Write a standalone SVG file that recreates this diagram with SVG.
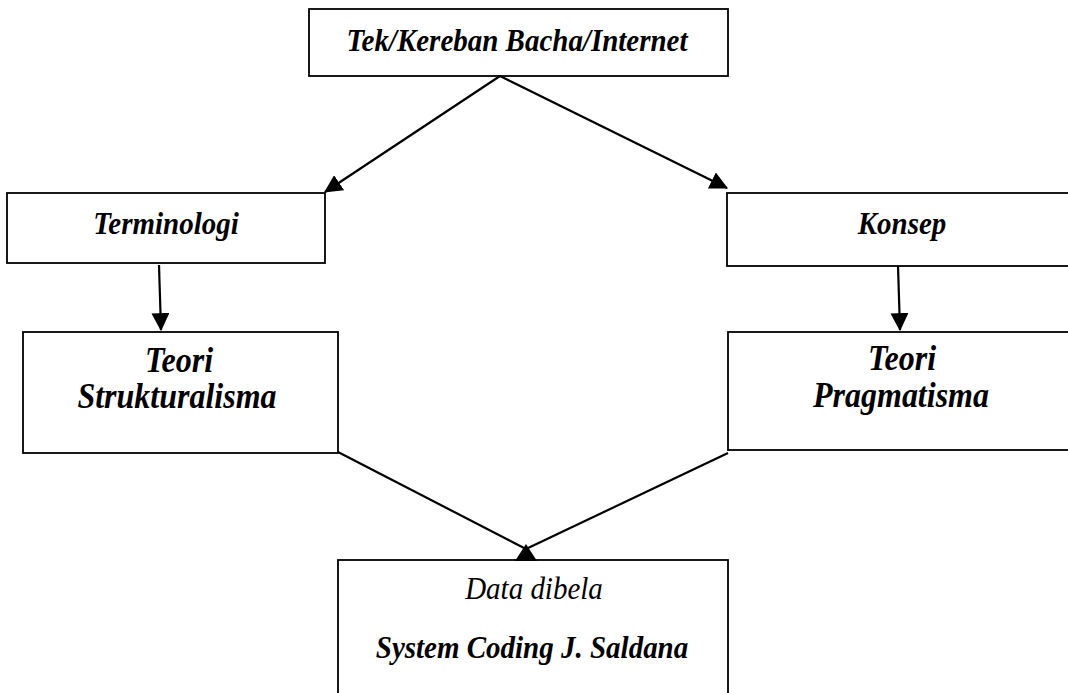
<svg xmlns="http://www.w3.org/2000/svg" width="1068" height="693" viewBox="0 0 1068 693">
  <style>
    .box { fill: #fff; stroke: #000; stroke-width: 1.8; }
    .bi { font-family: "Liberation Serif", "Times New Roman", serif; font-weight: bold; font-style: italic; fill: #000; text-anchor: middle; }
    .it { font-family: "Liberation Serif", "Times New Roman", serif; font-style: italic; fill: #000; text-anchor: middle; }
    .conn { stroke: #000; stroke-width: 2.2; fill: none; }
  </style>
  <defs>
    <marker id="arr" markerUnits="userSpaceOnUse" markerWidth="18" markerHeight="18" viewBox="0 0 16 16" refX="15" refY="8" orient="auto">
      <path d="M0,0 L16,8 L0,16 Z" fill="#000"/>
    </marker>
  </defs>
  <rect width="1068" height="693" fill="#fff"/>

  <g id="node-top">
    <rect class="box" x="309" y="9" width="419" height="67"/>
    <text class="bi" font-size="29" transform="translate(517,51) scale(1,1.12)">Tek/Kereban Bacha/Internet</text>
  </g>
  <g id="node-terminologi">
    <rect class="box" x="7" y="193" width="318" height="70"/>
    <text class="bi" font-size="29" transform="translate(166,234) scale(1,1.12)">Terminologi</text>
  </g>
  <g id="node-konsep">
    <rect class="box" x="727" y="193" width="360" height="73"/>
    <text class="bi" font-size="29" transform="translate(902,234) scale(1,1.12)">Konsep</text>
  </g>
  <g id="node-strukturalisma">
    <rect class="box" x="23" y="332" width="315" height="121"/>
    <text class="bi" font-size="32" transform="translate(179,372) scale(1,1.1)">Teori</text>
    <text class="bi" font-size="32" transform="translate(177,408) scale(1,1.1)">Strukturalisma</text>
  </g>
  <g id="node-pragmatisma">
    <rect class="box" x="728" y="332" width="360" height="118"/>
    <text class="bi" font-size="32" transform="translate(902,370) scale(1,1.1)">Teori</text>
    <text class="bi" font-size="32" transform="translate(901,407) scale(1,1.1)">Pragmatisma</text>
  </g>
  <g id="node-data">
    <rect class="box" x="338" y="560" width="390" height="150"/>
    <text class="it" font-size="29" transform="translate(534,599) scale(1,1.1)">Data dibela</text>
    <text class="bi" font-size="29" transform="translate(532,658) scale(1,1.1)">System Coding J. Saldana</text>
  </g>

  <g id="connectors">
    <line class="conn" x1="500" y1="76" x2="325" y2="192" marker-end="url(#arr)"/>
    <line class="conn" x1="500" y1="76" x2="727" y2="188" marker-end="url(#arr)"/>
    <line class="conn" x1="159" y1="265" x2="161" y2="330" marker-end="url(#arr)"/>
    <line class="conn" x1="898" y1="266" x2="900" y2="330" marker-end="url(#arr)"/>
    <line class="conn" x1="338" y1="452" x2="526" y2="549"/>
    <line class="conn" x1="728" y1="453" x2="526" y2="549"/>
    <path d="M526,544 L515,561 L537,561 Z" fill="#000"/>
  </g>
</svg>
